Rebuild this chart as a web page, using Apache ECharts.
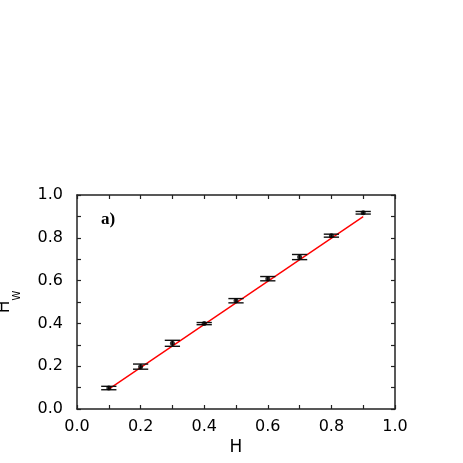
<!DOCTYPE html>
<html>
<head>
<meta charset="UTF-8">
<title>H_W vs H</title>
<script src="https://cdn.jsdelivr.net/npm/echarts@6.0.0/dist/echarts.min.js"></script>
<style>
    html, body { margin: 0; padding: 0; background: #fff; }
    #grafica { width: 463px; height: 463px; }
</style>
</head>
<body>
<div id="grafica"></div>
<script>
    // datos
    const hVals = [0.1, 0.2, 0.3, 0.4, 0.5, 0.6, 0.7, 0.8, 0.9];
    const hwVals = [0.098, 0.198, 0.307, 0.399, 0.506, 0.609, 0.710, 0.810, 0.917];
    const errVals = [0.008, 0.012, 0.014, 0.005, 0.010, 0.010, 0.012, 0.007, 0.006];
    const fitX = [0.1, 0.9];
    const fitY = [0.093, 0.899];
    const capHalf = 0.024;

    const fuente = 'DejaVu Sans';
    const colorEje = '#222';

    let myChart = echarts.init(document.getElementById('grafica'));

    function ejeX(extra) {
        return Object.assign({
            type: 'value', min: 0, max: 1, interval: 0.2,
            axisLine: { onZero: false, lineStyle: { color: colorEje, width: 1.5 } },
            axisTick: { inside: true, length: 4, lineStyle: { color: colorEje, width: 1.2 } },
            minorTick: { show: true, splitNumber: 2, length: 4, lineStyle: { color: colorEje, width: 1.2 } },
            splitLine: { show: false }
        }, extra);
    }

    let option = {
        animation: false,
        grid: { left: 77, right: 68, top: 195, bottom: 54, containLabel: false, outerBoundsMode: 'none' },
        title: {
            text: 'a)', left: 96, top: 206,
            textStyle: { fontFamily: 'Liberation Serif', fontWeight: 'bold', fontSize: 17, color: '#000' }
        },
        xAxis: [
            ejeX({
                position: 'bottom',
                name: 'H', nameLocation: 'middle', nameGap: 30,
                nameTextStyle: { fontFamily: fuente, fontSize: 17, color: '#000' },
                axisLabel: { margin: 10, fontFamily: fuente, fontSize: 16, color: '#000',
                    formatter: v => v.toFixed(1) }
            }),
            ejeX({ position: 'top', axisLabel: { show: false } })
        ],
        yAxis: [
            ejeX({
                position: 'left',
                name: '{a|H}{b|W}', nameLocation: 'middle', nameGap: 55,
                nameTextStyle: {
                    padding: [0, 0, 0, 0],
                    rich: {
                        a: { fontFamily: fuente, fontSize: 17, color: '#000', lineHeight: 26, verticalAlign: 'top' },
                        b: { fontFamily: fuente, fontSize: 10, color: '#000', lineHeight: 26, verticalAlign: 'bottom' }
                    }
                },
                axisLabel: { margin: 14, fontFamily: fuente, fontSize: 16, color: '#000',
                    formatter: v => v.toFixed(1) }
            }),
            ejeX({ position: 'right', axisLabel: { show: false } })
        ],
        series: [
            {
                type: 'line',
                data: fitX.map((x, i) => [x, fitY[i]]),
                symbol: 'none',
                lineStyle: { color: '#ff0000', width: 1.4 },
                z: 3
            },
            {
                type: 'custom',
                data: hVals.map((x, i) => [x, hwVals[i], errVals[i]]),
                renderItem: function (params, api) {
                    let x = api.value(0), y = api.value(1), e = api.value(2);
                    let pArr = api.coord([x, y + e]);
                    let pAb = api.coord([x, y - e]);
                    let izq = api.coord([x - capHalf, y]);
                    let der = api.coord([x + capHalf, y]);
                    let estilo = { stroke: '#111', lineWidth: 1.4 };
                    return {
                        type: 'group',
                        children: [
                            { type: 'line', shape: { x1: pArr[0], y1: pArr[1], x2: pAb[0], y2: pAb[1] }, style: estilo },
                            { type: 'line', shape: { x1: izq[0], y1: pArr[1], x2: der[0], y2: pArr[1] }, style: estilo },
                            { type: 'line', shape: { x1: izq[0], y1: pAb[1], x2: der[0], y2: pAb[1] }, style: estilo }
                        ]
                    };
                },
                z: 4
            },
            {
                type: 'scatter',
                data: hVals.map((x, i) => [x, hwVals[i]]),
                symbol: 'circle',
                symbolSize: 5,
                itemStyle: { color: '#000' },
                z: 5
            }
        ]
    };

    myChart.setOption(option);
</script>
</body>
</html>
